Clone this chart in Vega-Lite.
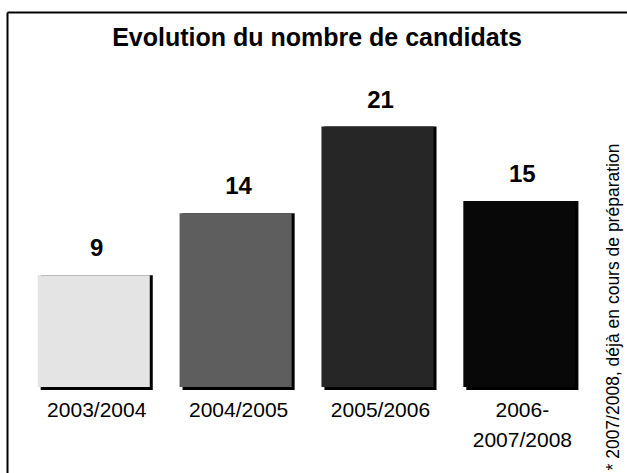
{
  "$schema": "https://vega.github.io/schema/vega-lite/v6.json",
  "autosize": {"type": "none"},
  "width": 620,
  "height": 461,
  "padding": {"left": 7, "top": 12, "right": 0, "bottom": 0},
  "background": "white",
  "config": {"view": {"stroke": null}},
  "title": {
    "text": "Evolution du nombre de candidats",
    "anchor": "middle",
    "frame": "group",
    "orient": "top",
    "offset": -59,
    "baseline": "alphabetic",
    "font": "Liberation Sans",
    "fontSize": 25,
    "fontWeight": "bold",
    "color": "black"
  },
  "data": {
    "values": [
      {"period": "2003/2004", "label": "2003/2004", "n": 9},
      {"period": "2004/2005", "label": "2004/2005", "n": 14},
      {"period": "2005/2006", "label": "2005/2006", "n": 21},
      {"period": "2006-2007/2008", "label": "2006-\n2007/2008", "n": 15}
    ]
  },
  "encoding": {
    "x": {
      "field": "period",
      "type": "nominal",
      "sort": null,
      "scale": {"paddingInner": 0.21, "paddingOuter": 0.29, "align": 0.373},
      "axis": {
        "orient": "top",
        "title": null,
        "labels": false,
        "ticks": false,
        "grid": false,
        "domain": true,
        "domainColor": "black",
        "domainWidth": 2
      }
    }
  },
  "layer": [
    {
      "mark": {"type": "bar", "color": "black", "xOffset": 3, "y2Offset": 3},
      "encoding": {
        "y": {
          "field": "n",
          "type": "quantitative",
          "scale": {"domain": [-6.94, 30.24], "nice": false, "zero": false},
          "axis": {
            "orient": "left",
            "title": null,
            "labels": false,
            "ticks": false,
            "grid": false,
            "domain": true,
            "domainColor": "black",
            "domainWidth": 2
          }
        },
        "y2": {"datum": 0}
      }
    },
    {
      "mark": {"type": "bar"},
      "encoding": {
        "y": {
          "field": "n",
          "type": "quantitative",
          "axis": {
            "orient": "right",
            "title": "* 2007/2008, déjà en cours de préparation",
            "labels": false,
            "ticks": false,
            "grid": false,
            "domain": false,
            "titleAngle": 270,
            "titleAlign": "left",
            "titleBaseline": "alphabetic",
            "titleX": -9,
            "titleY": 458,
            "titleFont": "Liberation Sans",
            "titleFontSize": 17.5,
            "titleFontWeight": "normal",
            "titleColor": "black"
          }
        },
        "y2": {"datum": 0},
        "color": {
          "field": "period",
          "type": "nominal",
          "sort": null,
          "legend": null,
          "scale": {"range": ["#e4e4e4", "#5e5e5e", "#262626", "#080808"]}
        }
      }
    },
    {
      "mark": {
        "type": "text",
        "baseline": "alphabetic",
        "dy": -19,
        "dx": 3,
        "font": "Liberation Sans",
        "fontSize": 24,
        "fontWeight": "bold",
        "color": "black"
      },
      "encoding": {
        "y": {"field": "n", "type": "quantitative", "axis": null},
        "text": {"field": "n", "type": "quantitative"}
      }
    },
    {
      "mark": {
        "type": "text",
        "baseline": "alphabetic",
        "lineBreak": "\n",
        "lineHeight": 30,
        "dy": 30,
        "dx": 3,
        "font": "Liberation Sans",
        "fontSize": 21,
        "color": "black"
      },
      "encoding": {
        "y": {"datum": 0, "type": "quantitative", "axis": null},
        "text": {"field": "label", "type": "nominal"}
      }
    }
  ],
  "resolve": {"axis": {"y": "independent"}}
}
